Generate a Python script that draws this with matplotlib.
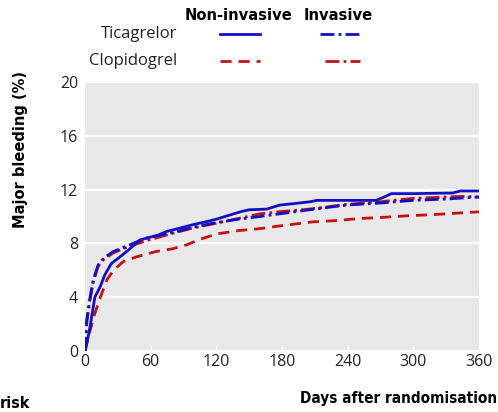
import matplotlib
matplotlib.use("Agg")
import matplotlib.pyplot as plt
from matplotlib.lines import Line2D
from matplotlib import font_manager

# Data (days, cumulative major bleeding %)
tic_nonin_days = [0, 1.5, 4.6, 9, 14, 18, 24, 32, 41, 50, 59, 66, 75, 85, 99, 110, 120, 132, 142, 150, 166, 178, 190, 206, 212, 240, 266, 272, 280, 300, 336, 343, 360]
tic_nonin_vals = [0, 0.5, 1.8, 4.0, 4.8, 5.65, 6.5, 7.0, 7.6, 8.25, 8.45, 8.6, 8.9, 9.1, 9.4, 9.6, 9.8, 10.1, 10.35, 10.5, 10.55, 10.85, 10.95, 11.1, 11.2, 11.2, 11.2, 11.4, 11.7, 11.7, 11.75, 11.9, 11.9]

tic_inv_days = [0, 1.5, 4.6, 7.6, 12, 17, 26, 41, 56, 80, 99, 120, 140, 160, 178, 205, 239, 270, 300, 330, 360]
tic_inv_vals = [0, 2.3, 4.0, 5.3, 6.4, 6.9, 7.4, 7.9, 8.4, 8.8, 9.2, 9.55, 9.8, 10.0, 10.2, 10.5, 10.85, 11.0, 11.2, 11.3, 11.45]

clo_inv_days = [0, 1.5, 4.6, 7.6, 12, 17, 26, 41, 56, 80, 99, 120, 140, 160, 178, 205, 239, 270, 300, 330, 345, 360]
clo_inv_vals = [0, 2.0, 3.8, 5.1, 6.3, 6.8, 7.3, 7.8, 8.2, 8.75, 9.15, 9.5, 9.85, 10.2, 10.36, 10.55, 10.9, 11.1, 11.35, 11.45, 11.5, 11.45]

clo_nonin_days = [0, 3, 9, 14, 20, 26, 35, 47, 65, 80, 93, 105, 120, 140, 160, 178, 208, 230, 251, 275, 294, 320, 340, 360]
clo_nonin_vals = [0, 1.05, 2.8, 4.0, 5.3, 6.0, 6.65, 7.0, 7.4, 7.6, 7.9, 8.3, 8.7, 8.95, 9.1, 9.3, 9.6, 9.7, 9.85, 9.95, 10.05, 10.15, 10.25, 10.35]

x_ticks = [0, 60, 120, 180, 240, 300, 360]
y_ticks = [0, 4, 8, 12, 16, 20]

BLUE = "#1010c8"
RED = "#c81010"
REG = "Open Sans"

def bold(size):
    return font_manager.FontProperties(family="DejaVu Sans", weight="bold", stretch="condensed", size=size)

fig = plt.figure(figsize=(4.98, 4.12), dpi=100)
ax = fig.add_axes([0.1707, 0.148, 0.791, 0.653])
ax.set_facecolor("#e8e8e8")

lw = 2.0
ax.plot(clo_nonin_days, clo_nonin_vals, color=RED, lw=lw, ls=(0, (4, 2.5)), zorder=3)
ax.plot(clo_inv_days, clo_inv_vals, color=RED, lw=lw, ls=(0, (5, 1.5, 1, 1.5)), zorder=3)
ax.plot(tic_inv_days, tic_inv_vals, color=BLUE, lw=lw, ls=(0, (5, 1.5, 1, 1.5)), zorder=4)
ax.plot(tic_nonin_days, tic_nonin_vals, color=BLUE, lw=lw, ls="-", zorder=4)

ax.set_xlim(0, 360)
ax.set_ylim(0, 20)
ax.set_xticks(x_ticks)
ax.set_yticks(y_ticks)
ax.set_xticklabels([str(v) for v in x_ticks], fontfamily=REG, fontsize=11.5)
ax.set_yticklabels([str(v) for v in y_ticks], fontfamily=REG, fontsize=11.5)
ax.tick_params(axis="both", length=4, color="white", direction="in", pad=2, labelcolor="#222222")
ax.tick_params(axis="y", length=0, pad=5)
ax.grid(axis="y", color="white", lw=1.6)
ax.set_axisbelow(True)
for s in ax.spines.values():
    s.set_visible(False)

W, H = 498, 412
def fx(px): return px / W
def fy(py): return 1 - py / H

fig.text(fx(20), fy(150), "Major bleeding (%)", rotation=90, ha="center", va="center", fontproperties=bold(11.7))
fig.text(fx(497), fy(398), "Days after randomisation", ha="right", va="center", fontproperties=bold(11))
fig.text(fx(0), fy(403), "risk", ha="left", va="center", fontproperties=bold(11.5))

# Legend table
fig.text(fx(238.5), fy(16), "Non-invasive", ha="center", va="center", fontproperties=bold(11.8))
fig.text(fx(338.5), fy(16), "Invasive", ha="center", va="center", fontproperties=bold(11.8))
fig.text(fx(177), fy(34), "Ticagrelor", ha="right", va="center", fontfamily=REG, fontsize=12, color="#222222")
fig.text(fx(177), fy(61), "Clopidogrel", ha="right", va="center", fontfamily=REG, fontsize=12, color="#222222")

fig.add_artist(Line2D([fx(220), fx(260)], [fy(34), fy(34)], color=BLUE, lw=lw, ls="-"))
fig.add_artist(Line2D([fx(320), fx(360)], [fy(34), fy(34)], color=BLUE, lw=lw, ls=(0, (5, 1.5, 1, 1.5))))
fig.add_artist(Line2D([fx(220), fx(260)], [fy(61), fy(61)], color=RED, lw=lw, ls=(0, (4, 2.5))))
fig.add_artist(Line2D([fx(325), fx(360)], [fy(61), fy(61)], color=RED, lw=lw, ls=(0, (5, 1.5, 1, 1.5))))

fig.savefig("out.png", dpi=100)
